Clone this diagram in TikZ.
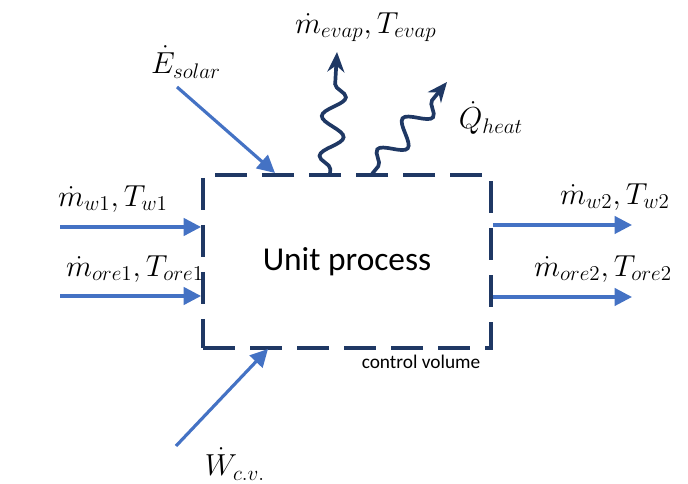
\documentclass[tikz,border=0pt]{standalone}
\usepackage{amsmath,amssymb}
\usepackage{xcolor}
\usepackage{fontspec}
\setmainfont{Carlito}
\usepackage{tikz}
\usetikzlibrary{arrows.meta,positioning,calc,decorations.pathmorphing}

\definecolor{navy}{HTML}{1F3864}
\definecolor{flowblue}{HTML}{4472C4}

\begin{document}
\begin{tikzpicture}[
    cvbox/.style={draw=navy, line width=2.2pt, dash pattern=on 0.64cm off 0.3cm, minimum width=5.76cm, minimum height=3.46cm, font=\fontsize{19}{22}\selectfont},
    flow/.style={-{Triangle[length=3.5mm, width=3.5mm]}, draw=flowblue, line width=1.8pt},
    wave/.style={-{Stealth[length=4mm, width=3.4mm]}, draw=navy, line width=2.1pt, decorate},
    lbl/.style={font=\fontsize{17.5}{20}\selectfont, inner sep=1pt}
]
\useasboundingbox (0,0) rectangle (13.76,9.68);
\node[cvbox] (cv) at (6.94,4.45) {Unit process};
\node[font=\fontsize{11}{13}\selectfont, inner sep=1pt] (cvname) at (8.42,2.44) {control volume};

% inlets and outlets
\coordinate (w1s) at (1.2,5.14);
\coordinate (ore1s) at (1.2,3.76);
\coordinate (w2e) at (12.64,5.18);
\coordinate (ore2e) at (12.64,3.74);
\draw[flow] (w1s) -- (w1s -| cv.west);
\draw[flow] (ore1s) -- (ore1s -| cv.west);
\draw[flow] (w2e -| cv.east) -- (w2e);
\draw[flow] (ore2e -| cv.east) -- (ore2e);
\node[lbl] (w1) at (2.26,5.7) {$\dot{m}_{w1},T_{w1}$};
\node[lbl] (ore1) at (2.7,4.3) {$\dot{m}_{ore1},T_{ore1}$};
\node[lbl] (w2) at (12.3,5.74) {$\dot{m}_{w2},T_{w2}$};
\node[lbl] (ore2) at (12.06,4.3) {$\dot{m}_{ore2},T_{ore2}$};

% solar and work
\coordinate (solars) at (3.54,7.94);
\coordinate (solare) at (5.5,6.22);
\coordinate (works) at (3.52,0.76);
\coordinate (worke) at (5.36,2.7);
\draw[flow] (solars) -- (solare);
\draw[flow] (works) -- (worke);
\node[lbl] (solar) at (3.72,8.44) {$\dot{E}_{solar}$};
\node[lbl] (work) at (4.7,0.4) {$\dot{W}_{c.v.}$};

% evaporation and heat loss
\coordinate (evaps) at (6.6,6.2);
\coordinate (evape) at (6.74,8.64);
\coordinate (heats) at (7.44,6.2);
\coordinate (heate) at (8.94,8.04);
\draw[wave, decoration={snake, amplitude=2.3mm, segment length=8mm, pre length=1mm, post length=3.5mm}] (evaps) -- (evape);
\draw[wave, decoration={snake, amplitude=2.3mm, segment length=8mm, pre length=2mm, post length=3.5mm}] (heats) -- (heate);
\node[lbl] (evap) at (7.32,9.14) {$\dot{m}_{evap},T_{evap}$};
\node[lbl] (heat) at (9.82,7.32) {$\dot{Q}_{heat}$};
\end{tikzpicture}
\end{document}
